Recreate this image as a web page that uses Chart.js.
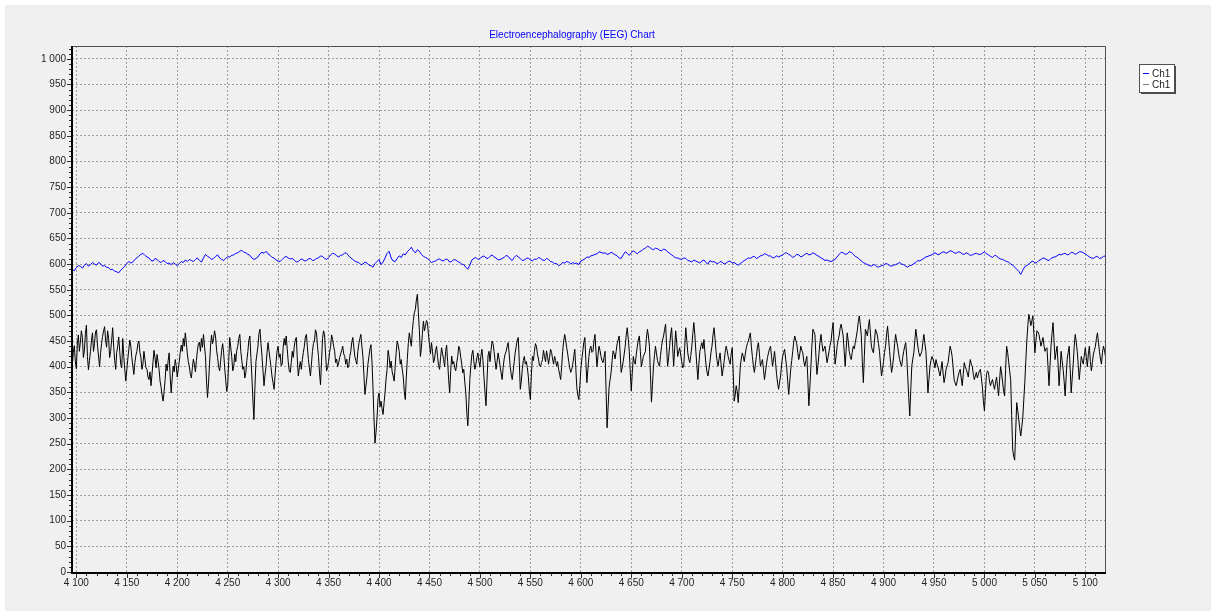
<!DOCTYPE html>
<html>
<head>
<meta charset="utf-8">
<title>EEG Chart</title>
<script src="https://cdn.jsdelivr.net/npm/chart.js@4.4.1/dist/chart.umd.min.js"></script>
<style>
  html, body { margin: 0; padding: 0; background: #ffffff; }
  #wrap { position: relative; width: 1211px; height: 611px; }
</style>
</head>
<body>
<div id="wrap"><canvas id="eeg"></canvas></div>
<script>
// ---- chart text ----
const chartTitle = 'Electroencephalography (EEG) Chart';
const seriesLabels = ['Ch1', 'Ch1'];

// ---- axis ticks ----
const xTickValues = [4100, 4150, 4200, 4250, 4300, 4350, 4400, 4450, 4500, 4550,
                     4600, 4650, 4700, 4750, 4800, 4850, 4900, 4950, 5000, 5050, 5100];
const yTickValues = [0, 50, 100, 150, 200, 250, 300, 350, 400, 450, 500,
                     550, 600, 650, 700, 750, 800, 850, 900, 950, 1000];

// ---- blue channel: one value every 2 samples from sample 4096 (one row = 100 samples) ----
const blueStart = 4096;
const blueStep = 2;
const blueValues = [
  590, 587, 593, 597, 596, 592, 598, 601, 596, 599, 603, 600, 598, 603, 601, 596, 597, 594, 593, 589, 590, 586, 585, 583, 588,
  592, 596, 601, 605, 602, 604, 609, 612, 616, 619, 621, 617, 614, 612, 607, 606, 611, 609, 605, 603, 607, 605, 601, 602, 599,
  603, 600, 597, 601, 605, 603, 608, 605, 609, 607, 605, 609, 612, 607, 604, 612, 619, 615, 613, 609, 611, 615, 618, 612, 609,
  607, 611, 614, 614, 617, 618, 621, 622, 625, 627, 623, 622, 619, 617, 612, 609, 611, 614, 620, 623, 621, 625, 620, 617, 613,
  612, 608, 606, 605, 609, 613, 615, 612, 610, 611, 608, 604, 605, 609, 610, 606, 607, 610, 611, 607, 608, 611, 612, 616, 615,
  611, 609, 613, 618, 621, 620, 616, 614, 617, 618, 622, 621, 616, 612, 609, 606, 604, 603, 599, 600, 604, 602, 598, 597, 594,
  601, 605, 609, 599, 604, 612, 621, 625, 612, 606, 605, 611, 616, 613, 620, 618, 624, 628, 633, 626, 622, 628, 625, 619, 615,
  613, 611, 607, 603, 605, 606, 609, 610, 607, 606, 610, 609, 604, 605, 609, 608, 605, 603, 600, 599, 594, 590, 598, 608, 611,
  613, 609, 611, 614, 616, 612, 611, 615, 618, 614, 612, 608, 609, 611, 613, 617, 615, 610, 607, 613, 617, 614, 611, 607, 608,
  611, 612, 608, 606, 610, 609, 613, 611, 608, 607, 611, 609, 605, 604, 601, 601, 597, 599, 603, 602, 605, 604, 600, 603, 601,
  602, 599, 606, 608, 610, 614, 613, 616, 617, 619, 620, 624, 623, 621, 622, 619, 620, 623, 621, 618, 616, 612, 611, 618, 624,
  621, 617, 622, 626, 623, 620, 624, 626, 629, 631, 635, 633, 630, 628, 631, 630, 627, 626, 629, 628, 624, 621, 618, 615, 612,
  612, 610, 609, 612, 611, 607, 606, 604, 608, 606, 604, 602, 606, 608, 603, 600, 607, 604, 605, 602, 601, 605, 604, 600, 602,
  605, 606, 602, 603, 600, 598, 601, 604, 607, 609, 612, 611, 614, 615, 611, 613, 616, 617, 620, 619, 616, 616, 612, 613, 616,
  614, 616, 618, 621, 622, 619, 617, 613, 615, 619, 618, 614, 616, 619, 621, 618, 619, 622, 620, 617, 615, 612, 610, 607, 608,
  606, 605, 607, 609, 614, 619, 623, 622, 619, 620, 624, 623, 619, 615, 613, 610, 606, 603, 601, 599, 597, 596, 599, 598, 594,
  595, 597, 598, 601, 600, 597, 596, 598, 599, 601, 603, 600, 599, 596, 594, 597, 598, 601, 603, 607, 606, 609, 611, 614, 615,
  617, 618, 622, 621, 618, 620, 623, 624, 621, 623, 626, 625, 622, 621, 624, 623, 620, 619, 622, 620, 617, 618, 620, 621, 619,
  619, 621, 624, 620, 618, 615, 613, 617, 616, 612, 610, 609, 607, 605, 604, 600, 598, 594, 590, 586, 580, 588, 595, 597, 600,
  604, 606, 602, 603, 607, 609, 612, 611, 608, 607, 611, 613, 614, 616, 619, 618, 620, 621, 618, 619, 623, 622, 619, 621, 624,
  624, 622, 620, 617, 614, 612, 611, 614, 615, 611, 612, 615, 616
];

// ---- black channel: one value per sample from sample 4096 (one row = 50 samples) ----
const blackStart = 4096;
const blackStep = 1;
const blackValues = [
  402, 428, 441, 410, 396, 445, 462, 430, 448, 470, 457, 418, 432, 465, 481, 420, 394, 412, 430, 452, 466, 430, 445, 468, 472,
  440, 421, 400, 426, 445, 459, 470, 478, 452, 438, 470, 455, 418, 430, 452, 476, 440, 412, 395, 428, 440, 458, 430, 405, 398,
  455, 420, 395, 372, 393, 415, 434, 452, 440, 418, 401, 385, 408, 422, 430, 445, 450, 428, 418, 395, 405, 430, 414, 398, 395,
  380, 375, 390, 363, 385, 410, 432, 417, 398, 424, 410, 395, 372, 360, 345, 333, 352, 375, 405, 392, 412, 427, 380, 349, 378,
  401, 390, 414, 402, 380, 395, 410, 428, 442, 430, 455, 440, 466, 448, 425, 410, 400, 385, 378, 398, 415, 405, 390, 412, 432,
  445, 448, 430, 455, 438, 463, 440, 420, 372, 340, 368, 405, 440, 462, 445, 455, 470, 458, 432, 418, 400, 392, 410, 432, 445,
  427, 398, 375, 352, 363, 410, 457, 438, 420, 392, 400, 425, 410, 432, 440, 455, 463, 430, 412, 395, 400, 378, 389, 412, 430,
  452, 460, 418, 380, 335, 297, 360, 410, 425, 440, 465, 473, 445, 420, 392, 363, 385, 400, 428, 447, 430, 414, 398, 380, 368,
  356, 385, 410, 432, 440, 418, 425, 402, 405, 438, 455, 442, 460, 435, 410, 392, 389, 408, 430, 418, 440, 452, 457, 415, 382,
  398, 410, 395, 414, 428, 440, 458, 463, 438, 414, 398, 382, 405, 430, 445, 450, 472, 466, 440, 420, 388, 365, 410, 455, 470,
  463, 425, 392, 398, 410, 428, 440, 462, 453, 440, 430, 408, 415, 400, 408, 418, 425, 432, 440, 425, 420, 405, 415, 398, 401,
  420, 430, 448, 457, 438, 420, 412, 405, 430, 445, 455, 463, 440, 420, 385, 346, 362, 380, 405, 420, 435, 443, 410, 360, 300,
  251, 272, 300, 338, 349, 322, 333, 318, 307, 330, 350, 378, 395, 432, 420, 398, 411, 390, 382, 372, 400, 428, 450, 442, 430,
  405, 414, 395, 380, 352, 336, 378, 414, 445, 466, 452, 440, 470, 490, 505, 512, 530, 541, 505, 470, 420, 437, 465, 489, 470,
  479, 490, 486, 462, 444, 425, 447, 430, 408, 415, 431, 440, 420, 402, 395, 418, 437, 425, 414, 400, 430, 442, 410, 375, 349,
  392, 421, 405, 410, 398, 392, 408, 420, 440, 434, 418, 405, 388, 395, 370, 349, 310, 285, 330, 375, 402, 424, 432, 410, 395,
  405, 418, 427, 410, 400, 422, 434, 412, 380, 350, 324, 372, 421, 430, 410, 432, 450, 445, 430, 412, 395, 410, 427, 415, 400,
  388, 375, 398, 415, 425, 430, 440, 447, 425, 400, 385, 375, 392, 410, 428, 440, 452, 457, 410, 356, 372, 395, 412, 420, 405,
  410, 398, 380, 352, 336, 385, 420, 412, 430, 445, 440, 425, 415, 402, 400, 408, 414, 432, 420, 410, 431, 420, 405, 418, 434,
  428, 415, 405, 420, 412, 401, 410, 395, 385, 375, 400, 430, 450, 463, 452, 437, 425, 410, 398, 389, 395, 405, 420, 434, 398,
  360, 345, 336, 362, 395, 415, 431, 448, 457, 410, 369, 395, 420, 435, 440, 428, 430, 450, 463, 430, 400, 422, 440, 432, 420,
  412, 408, 418, 430, 355, 281, 320, 360, 375, 389, 412, 431, 425, 415, 430, 445, 452, 460, 425, 389, 398, 410, 425, 440, 462,
  476, 455, 430, 390, 353, 388, 420, 410, 405, 425, 440, 452, 460, 430, 400, 410, 420, 425, 430, 455, 473, 460, 440, 385, 331,
  365, 400, 422, 440, 425, 412, 405, 401, 422, 440, 452, 460, 472, 483, 440, 401, 418, 440, 462, 476, 438, 401, 435, 470, 448,
  420, 430, 437, 422, 410, 398, 401, 440, 476, 452, 427, 415, 408, 422, 440, 465, 486, 462, 430, 402, 375, 405, 430, 440, 447,
  435, 453, 428, 405, 390, 382, 395, 410, 428, 440, 462, 476, 455, 430, 412, 401, 415, 427, 405, 382, 395, 410, 428, 440, 432,
  420, 412, 405, 425, 437, 390, 333, 345, 363, 352, 330, 362, 400, 415, 427, 420, 410, 425, 437, 445, 450, 458, 466, 440, 420,
  402, 389, 405, 420, 438, 447, 425, 401, 408, 414, 395, 375, 390, 405, 418, 427, 435, 440, 420, 401, 415, 430, 408, 385, 368,
  356, 370, 382, 405, 420, 428, 434, 415, 400, 372, 346, 370, 395, 412, 430, 448, 460, 452, 445, 428, 414, 425, 440, 432, 427,
  410, 401, 412, 420, 375, 324, 360, 400, 440, 473, 468, 463, 420, 385, 402, 425, 448, 463, 445, 430, 435, 440, 425, 408, 418,
  430, 442, 450, 470, 486, 445, 405, 420, 440, 452, 460, 475, 483, 472, 460, 430, 401, 435, 466, 450, 430, 420, 414, 428, 440,
  435, 447, 458, 470, 488, 499, 482, 460, 410, 369, 420, 473, 468, 460, 478, 492, 465, 440, 432, 427, 450, 473, 468, 460, 445,
  430, 405, 382, 395, 410, 428, 440, 462, 479, 455, 430, 408, 389, 402, 420, 445, 463, 450, 440, 425, 414, 405, 401, 418, 430,
  440, 447, 420, 380, 340, 304, 355, 401, 415, 427, 450, 473, 458, 440, 428, 420, 425, 430, 448, 463, 445, 430, 392, 349, 375,
  400, 412, 420, 415, 408, 398, 414, 405, 400, 390, 382, 395, 410, 388, 369, 380, 395, 402, 408, 425, 440, 432, 420, 398, 375,
  368, 363, 372, 382, 390, 395, 378, 363, 385, 408, 400, 395, 388, 380, 398, 414, 405, 400, 385, 375, 382, 389, 378, 385, 392,
  395, 378, 360, 332, 314, 350, 385, 392, 389, 372, 363, 370, 375, 365, 356, 368, 380, 362, 343, 372, 400, 388, 370, 352, 343,
  395, 440, 428, 410, 392, 375, 305, 239, 225, 218, 275, 330, 315, 298, 280, 265, 282, 300, 335, 369, 410, 450, 480, 502, 492,
  480, 490, 499, 465, 427, 450, 470, 468, 463, 452, 440, 448, 457, 442, 430, 435, 437, 400, 363, 402, 440, 465, 486, 450, 414,
  428, 440, 405, 363, 395, 430, 412, 395, 372, 343, 380, 414, 428, 440, 395, 349, 378, 405, 440, 463, 448, 430, 402, 375, 398,
  420, 412, 405, 422, 437, 418, 400, 425, 440, 410, 392, 408, 425, 432, 440, 455, 466, 448, 430, 415, 405, 428, 440, 432, 420
];

// ---- styling ----
const FONT = '"Liberation Sans", Arial, sans-serif';
const BLUE = '#0000ff';
const BLACK = '#000000';

const toPoints = (values, start, step) => values.map((v, i) => ({ x: start + i * step, y: v }));
const groupDigits = v => String(v).replace(/\B(?=(\d{3})+(?!\d))/g, ' ');

// window background: white edge with a light grey panel
const panelPlugin = {
  id: 'panel',
  beforeDraw(chart) {
    const c = chart.ctx;
    c.save();
    c.fillStyle = '#ffffff';
    c.fillRect(0, 0, chart.width, chart.height);
    c.fillStyle = '#f0f0f0';
    c.fillRect(5, 5, chart.width - 5, chart.height - 5);
    c.restore();
  }
};

// axis lines, frame, major and minor tick marks
const framePlugin = {
  id: 'frame',
  afterDatasetsDraw(chart) {
    const c = chart.ctx;
    const a = chart.chartArea;
    const xs = chart.scales.x, ys = chart.scales.y;
    c.save();
    // top and right frame
    c.strokeStyle = '#505050';
    c.lineWidth = 1;
    c.beginPath();
    c.moveTo(a.left, a.top + 0.5);
    c.lineTo(a.right + 0.5, a.top + 0.5);
    c.lineTo(a.right + 0.5, a.bottom);
    c.stroke();
    // left and bottom axes
    c.fillStyle = '#000000';
    c.fillRect(a.left - 1, a.top, 2, a.bottom - a.top + 2);
    c.fillRect(a.left - 1, a.bottom, a.right - a.left + 2, 2);
    // tick marks
    c.strokeStyle = '#303030';
    c.beginPath();
    for (let v = 4100; v <= xs.max; v += 10) {
      const px = Math.round(xs.getPixelForValue(v)) + 0.5;
      const len = (v % 50 === 0) ? 4 : 2;
      c.moveTo(px, a.bottom + 2);
      c.lineTo(px, a.bottom + 2 + len);
    }
    for (let v = 0; v <= ys.max; v += 10) {
      const py = Math.round(ys.getPixelForValue(v)) + 0.5;
      const len = (v % 50 === 0) ? 4 : 2;
      c.moveTo(a.left - 1, py);
      c.lineTo(a.left - 1 - len, py);
    }
    c.stroke();
    c.restore();
  }
};

// title and legend box
const captionPlugin = {
  id: 'caption',
  afterDraw(chart) {
    const c = chart.ctx;
    c.save();
    c.font = '10px ' + FONT;
    c.fillStyle = BLUE;
    c.textAlign = 'center';
    c.textBaseline = 'middle';
    c.fillText(chartTitle, 572, 35);

    // legend
    const lx = 1139, ly = 64, lw = 35, lh = 28;
    c.fillStyle = '#4a4a4a';
    c.fillRect(lx + 2, ly + 2, lw, lh);
    c.fillStyle = '#ffffff';
    c.fillRect(lx, ly, lw, lh);
    c.strokeStyle = '#505050';
    c.lineWidth = 1;
    c.strokeRect(lx + 0.5, ly + 0.5, lw, lh);
    const legendColors = [BLUE, '#808080'];
    chart.data.datasets.forEach((ds, i) => {
      const y = ly + 9 + i * 11;
      c.strokeStyle = legendColors[i];
      c.beginPath();
      c.moveTo(lx + 4, y + 0.5);
      c.lineTo(lx + 10, y + 0.5);
      c.stroke();
      c.fillStyle = '#1a1a1a';
      c.textAlign = 'left';
      c.textBaseline = 'middle';
      c.fillText(ds.label, lx + 13, y + 1);
    });
    c.restore();
  }
};

new Chart(document.getElementById('eeg'), {
  type: 'line',
  data: {
    datasets: [
      {
        label: seriesLabels[0],
        data: toPoints(blueValues, blueStart, blueStep),
        borderColor: BLUE,
        borderWidth: 1,
        pointRadius: 0,
        tension: 0,
        fill: false
      },
      {
        label: seriesLabels[1],
        data: toPoints(blackValues, blackStart, blackStep),
        borderColor: BLACK,
        borderWidth: 1,
        pointRadius: 0,
        tension: 0,
        fill: false
      }
    ]
  },
  options: {
    responsive: true,
    maintainAspectRatio: false,
    animation: false,
    events: [],
    layout: { padding: { left: 0, top: 46, right: 106, bottom: 0 } },
    plugins: {
      legend: { display: false },
      title: { display: false },
      tooltip: { enabled: false }
    },
    scales: {
      x: {
        type: 'linear',
        min: 4095.7,
        max: 5119.5,
        afterFit: s => { s.height = 39; },
        afterBuildTicks: s => { s.ticks = xTickValues.map(v => ({ value: v })); },
        ticks: {
          callback: groupDigits,
          font: { family: FONT, size: 10 },
          color: '#1e1e1e',
          padding: 5,
          maxRotation: 0,
          autoSkip: false
        },
        grid: { color: '#a0a0a0', lineWidth: 1, drawTicks: false },
        border: { display: false, dash: [2, 2] }
      },
      y: {
        type: 'linear',
        min: 0,
        max: 1025,
        afterFit: s => { s.width = 72; },
        afterBuildTicks: s => { s.ticks = yTickValues.map(v => ({ value: v })); },
        ticks: {
          callback: groupDigits,
          font: { family: FONT, size: 10 },
          color: '#1e1e1e',
          padding: 6,
          autoSkip: false
        },
        grid: { color: '#a0a0a0', lineWidth: 1, drawTicks: false },
        border: { display: false, dash: [2, 2] }
      }
    }
  },
  plugins: [panelPlugin, framePlugin, captionPlugin]
});
</script>
</body>
</html>
